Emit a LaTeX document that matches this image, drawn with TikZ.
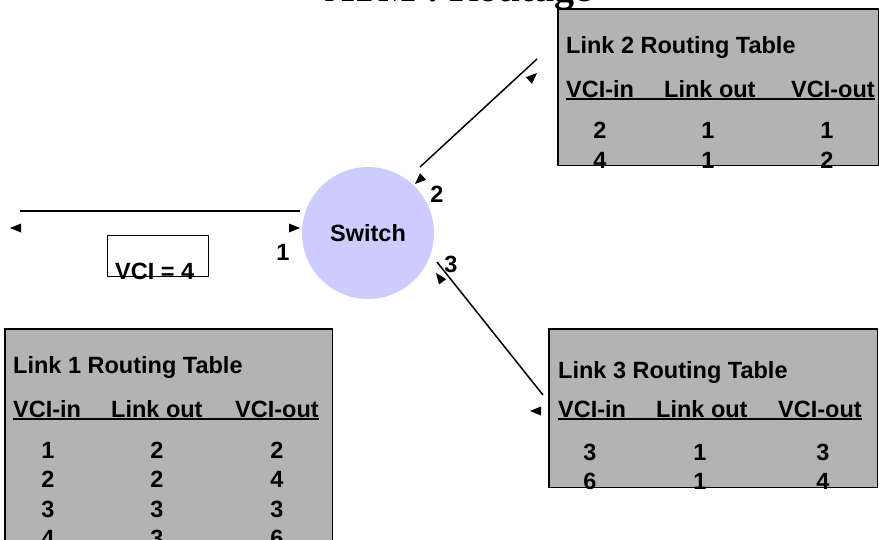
\documentclass[tikz,border=0pt]{standalone}
\usepackage{fontspec}
\setmainfont{Liberation Sans}
\newfontfamily\titlefont{Liberation Serif}
\usetikzlibrary{positioning}

\definecolor{tablegray}{RGB}{179,179,179}
\definecolor{switchblue}{RGB}{204,204,255}

\begin{document}
\begin{tikzpicture}[
    x=1pt, y=-1pt,
    % node styles
    txt/.style={
        inner sep=0pt, anchor=base west,
        font=\fontsize{23.5}{28}\selectfont\bfseries
    },
    num/.style={
        inner sep=0pt, anchor=base,
        font=\fontsize{23.5}{28}\selectfont\bfseries
    },
    tablebox/.style={
        rectangle, fill=tablegray, anchor=north west,
        inner sep=0pt
    },
    tableframe/.style={draw, line width=1.5pt},
    switchnode/.style={
        circle, fill=switchblue, minimum size=132pt,
        inner sep=0pt, font=\fontsize{23.5}{28}\selectfont\bfseries
    },
    link/.style={line width=1.5pt},
    underl/.style={line width=1.5pt},
    linkhead/.pic={\fill (0,0) -- (-11,-4.5) -- (-11,4.5) -- cycle;}
]
\useasboundingbox (0,0) rectangle (879,539);

% Title
\node[font=\titlefont\bfseries\fontsize{40}{48}\selectfont,
      anchor=base east, inner sep=0pt] (title) at (592,1.5) {ATM : Routage};

% Switch
\node[switchnode] (switch) at (368,233) {Switch};

% Ports
\node[num] (port1) at (283,260) {1};
\node[num] (port2) at (437,202) {2};
\node[num] (port3) at (451,272) {3};

% Link 1
\coordinate (l1far) at (20,211);
\coordinate (l1sw) at (300,211);
\draw[link] (l1far) -- (l1sw);
\pic[rotate=180] at (10,228) {linkhead};
\pic at (300,228) {linkhead};

\node[draw, line width=1pt, minimum width=101pt, minimum height=41pt,
      anchor=north west, inner sep=0pt] (vcibox) at (107,235) {};
\node[txt] (vci) at (115,279) {VCI = 4};

% Link 2
\coordinate (l2sw) at (420,167);
\coordinate (l2far) at (537,59);
\draw[link] (l2sw) -- (l2far);
\pic[rotate=43] at (537,73) {linkhead};
\pic[rotate=223] at (415,184) {linkhead};

% Link 3
\coordinate (l3sw) at (437,262);
\coordinate (l3far) at (543,395);
\draw[link] (l3sw) -- (l3far);
\pic[rotate=127] at (436,273) {linkhead};
\pic[rotate=180] at (530,411) {linkhead};

% Link 2 Routing Table
\node[tablebox, minimum width=320pt, minimum height=156pt] (tab2) at (558,9) {};
\node[txt] (t2title) at (566,53) {Link 2 Routing Table};
\node[txt] (t2in) at (566,97) {VCI-in};
\node[txt] (t2link) at (664,97) {Link out};
\node[txt] (t2out) at (791,97) {VCI-out};
\draw[underl] ([yshift=-2pt]t2in.base west) -- ([yshift=-2pt]t2out.base east);
\foreach \a/\b/\c [count=\i] in {2/1/1, 4/1/2} {
    \node[num] (t2a\i) at (600,108+30*\i) {\a};
    \node[num] (t2b\i) at (708,108+30*\i) {\b};
    \node[num] (t2c\i) at (827,108+30*\i) {\c};
}
\draw[tableframe] (tab2.north west) rectangle (tab2.south east);

% Link 1 Routing Table
\node[tablebox, minimum width=327pt, minimum height=240pt] (tab1) at (5,329) {};
\node[txt] (t1title) at (13,373) {Link 1 Routing Table};
\node[txt] (t1in) at (13,417) {VCI-in};
\node[txt] (t1link) at (111,417) {Link out};
\node[txt] (t1out) at (235,417) {VCI-out};
\draw[underl] ([yshift=-2pt]t1in.base west) -- ([yshift=-2pt]t1out.base east);
\foreach \a/\b/\c [count=\i] in {1/2/2, 2/2/4, 3/3/3, 4/3/6} {
    \node[num] (t1a\i) at (48,428.5+29.5*\i) {\a};
    \node[num] (t1b\i) at (157,428.5+29.5*\i) {\b};
    \node[num] (t1c\i) at (277,428.5+29.5*\i) {\c};
}
\draw[tableframe] (tab1.north west) rectangle (tab1.south east);

% Link 3 Routing Table
\node[tablebox, minimum width=328pt, minimum height=158pt] (tab3) at (549,329) {};
\node[txt] (t3title) at (558,378) {Link 3 Routing Table};
\node[txt] (t3in) at (558,417) {VCI-in};
\node[txt] (t3link) at (656,417) {Link out};
\node[txt] (t3out) at (778,417) {VCI-out};
\draw[underl] ([yshift=-2pt]t3in.base west) -- ([yshift=-2pt]t3out.base east);
\foreach \a/\b/\c [count=\i] in {3/1/3, 6/1/4} {
    \node[num] (t3a\i) at (590,431+29*\i) {\a};
    \node[num] (t3b\i) at (700,431+29*\i) {\b};
    \node[num] (t3c\i) at (823,431+29*\i) {\c};
}
\draw[tableframe] (tab3.north west) rectangle (tab3.south east);

\end{tikzpicture}
\end{document}
